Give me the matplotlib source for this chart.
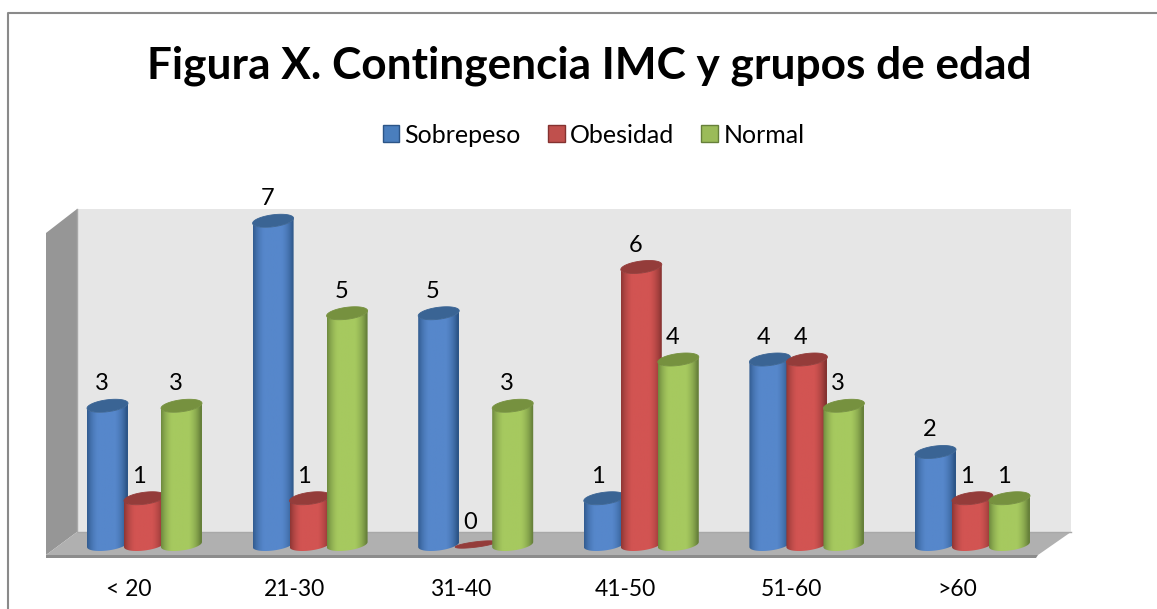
import numpy as np
import matplotlib
matplotlib.use("Agg")
import matplotlib.pyplot as plt
from matplotlib.patches import Polygon, Patch
from matplotlib.colors import LinearSegmentedColormap

categories = ["< 20", "21-30", "31-40", "41-50", "51-60", ">60"]
sobrepeso = [3, 7, 5, 1, 4, 2]
obesidad = [1, 1, 0, 6, 4, 1]
normal = [3, 5, 3, 4, 3, 1]
series_names = ["Sobrepeso", "Obesidad", "Normal"]
title = "Figura X. Contingencia IMC y grupos de edad"

W, H = 1157, 609
plt.rcParams["font.family"] = ["Lato", "DejaVu Sans"]
fig = plt.figure(figsize=(W / 100, H / 100), dpi=100, facecolor="white")
ax = fig.add_axes([0, 0, 1, 1])
ax.axis("off")

# scales: one category = 165.6 px, one unit = 46.25 px
X0, SX = 144.5, 165.6
Y0, SY = 544.5, 46.25
ax.set_xlim((0 - X0) / SX, (W - X0) / SX)
ax.set_ylim((Y0 - H) / SY, Y0 / SY)


def P(pts):
    """pixel outline -> data coordinates (chrome only)"""
    a = np.array(pts, float)
    return np.c_[(a[:, 0] - X0) / SX, (Y0 - a[:, 1]) / SY]


def chrome(pts, color, z=1):
    ax.add_patch(Polygon(P(pts), closed=True, fc=color, ec="none", zorder=z))


# frame
ax.plot(*P([(8, 609), (8, 13), (1157, 13)]).T, color="#8a8a8a", lw=1.5, zorder=1)
# walls and floor
chrome([(77, 209), (1071, 209), (1071, 532), (77, 532)], "#e6e6e6")
chrome([(46, 233), (77, 209), (77, 532), (46, 555)], "#969696")
chrome([(46, 555), (77, 532), (1071, 532), (1038, 555)], "#b0b0b0")
chrome([(46, 555), (1038, 555), (1036, 558), (46, 558)], "#8c8c8c")
ax.plot(*P([(77, 209), (77, 532), (1071, 532)]).T, color="#a8a8a8", lw=1, zorder=1.5)

WIDTH = 41 / SX
STEP = 37 / SX
A = WIDTH / 2
TILT = 2.5 / SY
B = 6.0 / SY
t_all = np.linspace(0, 2 * np.pi, 80)
t_low = np.linspace(np.pi, 2 * np.pi, 40)
styles = [
    ("#2c5587", "#5687cb", "#3a6494", "#4a7ebd"),
    ("#843230", "#d25452", "#943c3a", "#c0504d"),
    ("#66803a", "#a6c95f", "#76913f", "#9bbb59"),
]


def cylinder(cx, v, dark, light, cap, z):
    if v > 0:
        foot_x = cx + A * np.cos(t_low)
        foot_y = TILT * np.cos(t_low) + B * np.sin(t_low)
        top_x = cx + A * np.cos(t_low[::-1])
        top_y = v + TILT * np.cos(t_low[::-1]) + B * np.sin(t_low[::-1])
        poly = Polygon(np.c_[np.r_[foot_x, top_x], np.r_[foot_y, top_y]],
                       closed=True, fc="none", ec="none", transform=ax.transData)
        ax.add_patch(poly)
        u = np.linspace(-1, 1, 64)
        shade = np.clip((1 - np.abs(u + 0.05) ** 2.6) * 1.12, 0, 1)[None, :]
        cmap = LinearSegmentedColormap.from_list("c", [dark, light])
        im = ax.imshow(shade, cmap=cmap, vmin=0, vmax=1, aspect="auto",
                       extent=(cx - A, cx + A, -B * 1.5, v + B * 1.5),
                       interpolation="bilinear", zorder=z)
        im.set_clip_path(poly)
    b = B if v > 0 else B * 0.45
    ell = np.c_[cx + A * np.cos(t_all),
                v + TILT * np.cos(t_all) + b * np.sin(t_all)]
    ax.add_patch(Polygon(ell, closed=True, fc=cap, ec=cap, lw=0.6, zorder=z + 0.1))


for k, vals in enumerate([sobrepeso, obesidad, normal]):
    dark, light, cap, _ = styles[k]
    for i, v in enumerate(vals):
        cx = i + (k - 1) * STEP
        cylinder(cx, v, dark, light, cap, 3 + k * 0.2 + i)
        ax.annotate(str(v), (cx, v), xytext=(-6 * 0.72, 22 * 0.72),
                    textcoords="offset points", ha="center", va="center",
                    fontsize=17, color="black", zorder=20)

for i, c in enumerate(categories):
    ax.text(i - 15.5 / SX, (Y0 - 590) / SY, c, ha="center", va="center",
            fontsize=16.5, color="black")

ax.text((589 - X0) / SX, (Y0 - 66) / SY, title, ha="center", va="center",
        fontsize=31.8, fontweight="bold", color="black")

handles = [Patch(fc=styles[k][3], ec=styles[k][0], lw=1, label=series_names[k]) for k in range(3)]
fig.legend(handles=handles, loc="center", bbox_to_anchor=(593.5 / W, 1 - 135 / H), ncol=3,
           frameon=False, fontsize=18, handlelength=0.66, handleheight=0.66,
           handletextpad=0.22, columnspacing=1.08)

fig.savefig("out.png", dpi=100, facecolor="white")
